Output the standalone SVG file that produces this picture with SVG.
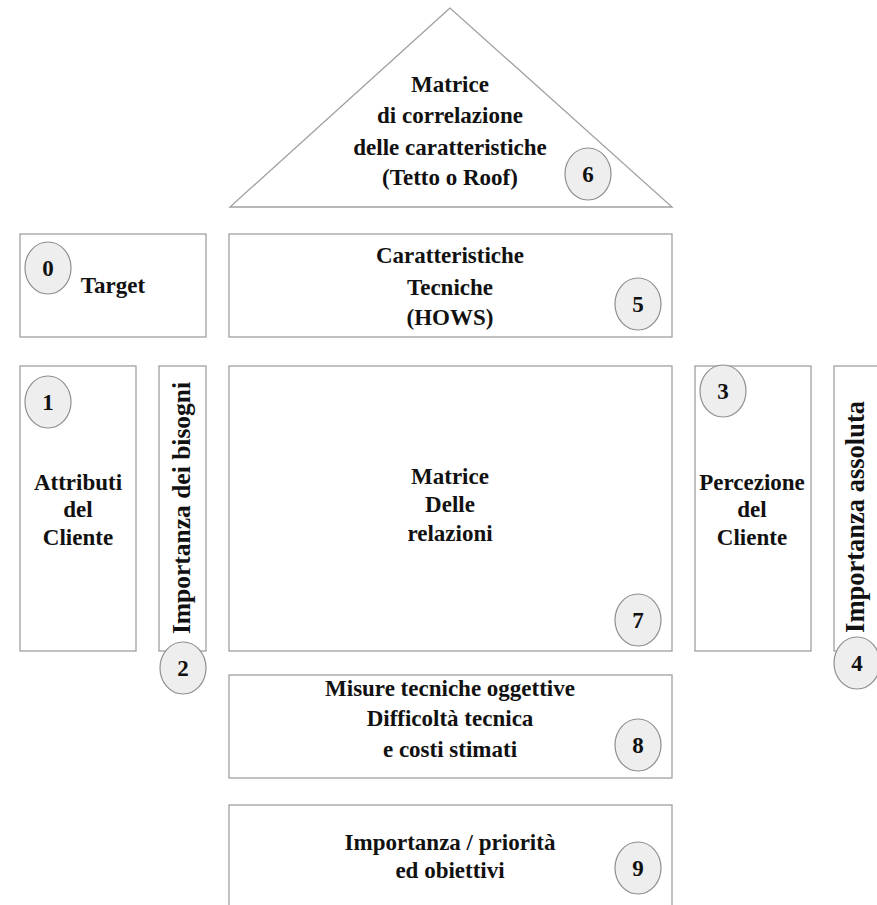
<svg xmlns="http://www.w3.org/2000/svg" width="877" height="905" viewBox="0 0 877 905">
<style>
.box{fill:#fff;stroke:#a0a0a0;stroke-width:1.3}
.num{fill:#eeeeee;stroke:#8f8f8f;stroke-width:1.2}
text{font-family:"Liberation Serif","Times New Roman",serif;font-weight:bold;fill:#111;text-anchor:middle}
.t{font-size:23px}
.n{font-size:23px}
.v{font-size:25.5px}
.v2{font-size:26.5px}
</style>
<rect width="877" height="905" fill="#fff"/>
<g id="connectors"/>
<g id="roof">
<polygon class="box" points="450,8 230,207 672,207"/>
<text class="t" x="450" y="92">Matrice</text>
<text class="t" x="450" y="123">di correlazione</text>
<text class="t" x="450" y="155">delle caratteristiche</text>
<text class="t" x="450" y="185">(Tetto o Roof)</text>
<ellipse class="num" cx="588" cy="174" rx="23" ry="26"/>
<text class="n" x="588" y="182">6</text>
</g>
<g id="target">
<rect class="box" x="20" y="234" width="186" height="103"/>
<ellipse class="num" cx="48" cy="268" rx="23" ry="26"/>
<text class="n" x="48" y="276">0</text>
<text class="t" x="113" y="293">Target</text>
</g>
<g id="hows">
<rect class="box" x="229" y="234" width="443" height="103"/>
<text class="t" x="450" y="263">Caratteristiche</text>
<text class="t" x="450" y="295">Tecniche</text>
<text class="t" x="450" y="325">(HOWS)</text>
<ellipse class="num" cx="638" cy="304" rx="23" ry="26"/>
<text class="n" x="638" y="312">5</text>
</g>
<g id="attributi">
<rect class="box" x="20" y="366" width="116" height="285"/>
<ellipse class="num" cx="48" cy="402" rx="23" ry="26"/>
<text class="n" x="48" y="410">1</text>
<text class="t" x="78" y="490">Attributi</text>
<text class="t" x="78" y="517">del</text>
<text class="t" x="78" y="545">Cliente</text>
</g>
<g id="importanza-bisogni">
<rect class="box" x="159" y="366" width="47" height="285"/>
<text class="v" transform="translate(190,508) rotate(-90)">Importanza dei bisogni</text>
<ellipse class="num" cx="183" cy="668" rx="23" ry="26"/>
<text class="n" x="183" y="676">2</text>
</g>
<g id="relazioni">
<rect class="box" x="229" y="366" width="443" height="285"/>
<text class="t" x="450" y="484">Matrice</text>
<text class="t" x="450" y="512">Delle</text>
<text class="t" x="450" y="541">relazioni</text>
<ellipse class="num" cx="638" cy="620" rx="23" ry="26"/>
<text class="n" x="638" y="628">7</text>
</g>
<g id="percezione">
<rect class="box" x="695" y="366" width="116" height="285"/>
<ellipse class="num" cx="723" cy="391" rx="23" ry="26"/>
<text class="n" x="723" y="399">3</text>
<text class="t" x="752" y="490">Percezione</text>
<text class="t" x="752" y="517">del</text>
<text class="t" x="752" y="545">Cliente</text>
</g>
<g id="importanza-assoluta">
<rect class="box" x="834" y="366" width="60" height="285"/>
<text class="v2" transform="translate(864,517) rotate(-90)">Importanza assoluta</text>
<ellipse class="num" cx="857" cy="663" rx="23" ry="26"/>
<text class="n" x="857" y="671">4</text>
</g>
<g id="misure">
<rect class="box" x="229" y="675" width="443" height="103"/>
<text class="t" x="450" y="696">Misure tecniche oggettive</text>
<text class="t" x="450" y="726">Difficoltà tecnica</text>
<text class="t" x="450" y="757">e costi stimati</text>
<ellipse class="num" cx="638" cy="745" rx="23" ry="26"/>
<text class="n" x="638" y="753">8</text>
</g>
<g id="priorita">
<rect class="box" x="229" y="805" width="443" height="120"/>
<text class="t" x="450" y="850">Importanza / priorità</text>
<text class="t" x="450" y="878">ed obiettivi</text>
<ellipse class="num" cx="638" cy="868" rx="23" ry="26"/>
<text class="n" x="638" y="876">9</text>
</g>
</svg>
